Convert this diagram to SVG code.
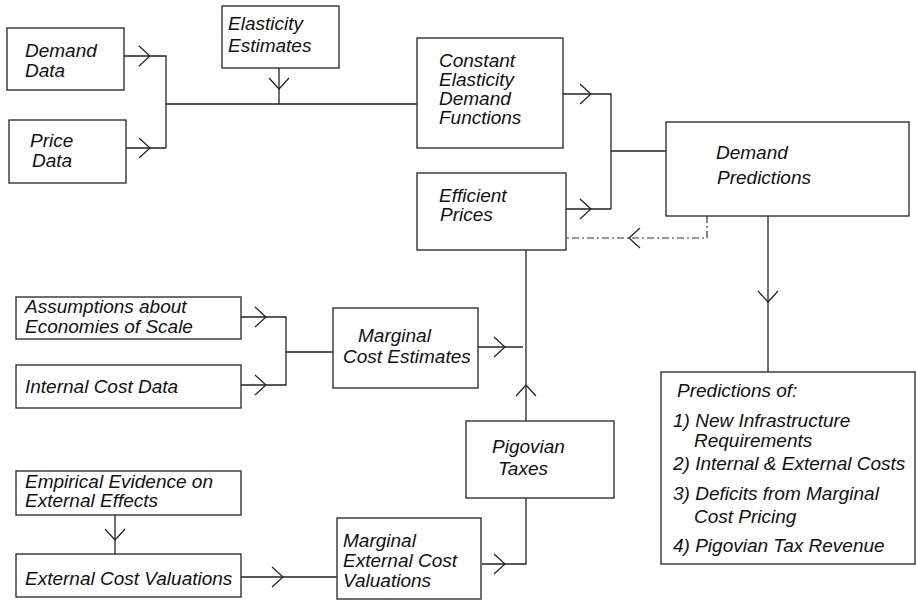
<svg xmlns="http://www.w3.org/2000/svg" xmlns:xlink="http://www.w3.org/1999/xlink" width="916" height="600" viewBox="0 0 916 600">
<style>
.box{fill:#fff;stroke:#333;stroke-width:1.4}
.t{font-family:"Liberation Sans",Arial,sans-serif;font-style:italic;font-size:19px;fill:#111}
.ln{fill:none;stroke:#222;stroke-width:1.3}
.dd{fill:none;stroke:#333;stroke-width:1.2;stroke-dasharray:7 3 2 3}
</style>
<defs>
<path id="chev" d="M-11,-10 L0,0 L-11,10" fill="none" stroke="#222" stroke-width="1.2"/>
</defs>
<rect width="916" height="600" fill="#fff"/>
<g id="connectors">
<path class="ln" d="M124,56 H166 V148 M126,148 H166 M166,104 H417 M279,68 V104"/>
<path class="ln" d="M563,94 H611 V209 M566,209 H611 M611,151 H666"/>
<path class="dd" d="M707,216 V238 H566"/>
<path class="ln" d="M768,216 V372"/>
<path class="ln" d="M526,250 V421 M526,498 V564 H482 M478,347 H523"/>
<path class="ln" d="M241,317 H286 V385 H241 M286,352 H333"/>
<path class="ln" d="M115,515 V554 M241,577 H337"/>
<use xlink:href="#chev" transform="translate(150,56)"/>
<use xlink:href="#chev" transform="translate(150,148)"/>
<use xlink:href="#chev" transform="translate(279,89) rotate(90)"/>
<use xlink:href="#chev" transform="translate(591,94)"/>
<use xlink:href="#chev" transform="translate(591,209)"/>
<use xlink:href="#chev" transform="translate(629,238) rotate(180)"/>
<use xlink:href="#chev" transform="translate(768,302) rotate(90)"/>
<use xlink:href="#chev" transform="translate(505,347)"/>
<use xlink:href="#chev" transform="translate(526,385) rotate(-90)"/>
<use xlink:href="#chev" transform="translate(505,564)"/>
<use xlink:href="#chev" transform="translate(266,317)"/>
<use xlink:href="#chev" transform="translate(266,385)"/>
<use xlink:href="#chev" transform="translate(115,540) rotate(90)"/>
<use xlink:href="#chev" transform="translate(283,577)"/>
</g>
<g id="demand-data"><rect class="box" x="7" y="28" width="117" height="62"/><text class="t" x="25" y="57">Demand</text><text class="t" x="25" y="77">Data</text></g>
<g id="price-data"><rect class="box" x="9" y="120" width="117" height="63"/><text class="t" x="30" y="147">Price</text><text class="t" x="32" y="167">Data</text></g>
<g id="elasticity-estimates"><rect class="box" x="222" y="6" width="117" height="62"/><text class="t" x="228" y="30">Elasticity</text><text class="t" x="228" y="52">Estimates</text></g>
<g id="constant-elasticity"><rect class="box" x="417" y="38" width="146" height="110"/><text class="t" x="439" y="67">Constant</text><text class="t" x="439" y="86">Elasticity</text><text class="t" x="439" y="105">Demand</text><text class="t" x="439" y="124">Functions</text></g>
<g id="efficient-prices"><rect class="box" x="417" y="173" width="149" height="77"/><text class="t" x="439" y="202">Efficient</text><text class="t" x="440" y="221">Prices</text></g>
<g id="demand-predictions"><rect class="box" x="666" y="122" width="243" height="94"/><text class="t" x="716" y="159">Demand</text><text class="t" x="717" y="184">Predictions</text></g>
<g id="assumptions"><rect class="box" x="16" y="297" width="225" height="42"/><text class="t" x="25" y="313">Assumptions about</text><text class="t" x="25" y="333">Economies of Scale</text></g>
<g id="internal-cost-data"><rect class="box" x="16" y="365" width="225" height="43"/><text class="t" x="25" y="393">Internal Cost Data</text></g>
<g id="marginal-cost-estimates"><rect class="box" x="333" y="308" width="145" height="80"/><text class="t" x="358" y="342">Marginal</text><text class="t" x="343" y="363">Cost Estimates</text></g>
<g id="pigovian-taxes"><rect class="box" x="466" y="421" width="148" height="77"/><text class="t" x="492" y="453">Pigovian</text><text class="t" x="498" y="475">Taxes</text></g>
<g id="empirical-evidence"><rect class="box" x="16" y="471" width="225" height="44"/><text class="t" x="25" y="488">Empirical Evidence on</text><text class="t" x="25" y="507">External Effects</text></g>
<g id="external-cost-valuations"><rect class="box" x="16" y="554" width="225" height="43"/><text class="t" x="25" y="585">External Cost Valuations</text></g>
<g id="marginal-external-cost"><rect class="box" x="337" y="518" width="144" height="81"/><text class="t" x="343" y="547">Marginal</text><text class="t" x="343" y="567">External Cost</text><text class="t" x="343" y="587">Valuations</text></g>
<g id="predictions-of"><rect class="box" x="661" y="372" width="254" height="192"/>
<text class="t" x="677" y="397">Predictions of:</text>
<text class="t" x="673" y="427">1) New Infrastructure</text>
<text class="t" x="694" y="447">Requirements</text>
<text class="t" x="673" y="470">2) Internal &amp; External Costs</text>
<text class="t" x="673" y="500">3) Deficits from Marginal</text>
<text class="t" x="694" y="523">Cost Pricing</text>
<text class="t" x="673" y="552">4) Pigovian Tax Revenue</text>
</g>
</svg>
